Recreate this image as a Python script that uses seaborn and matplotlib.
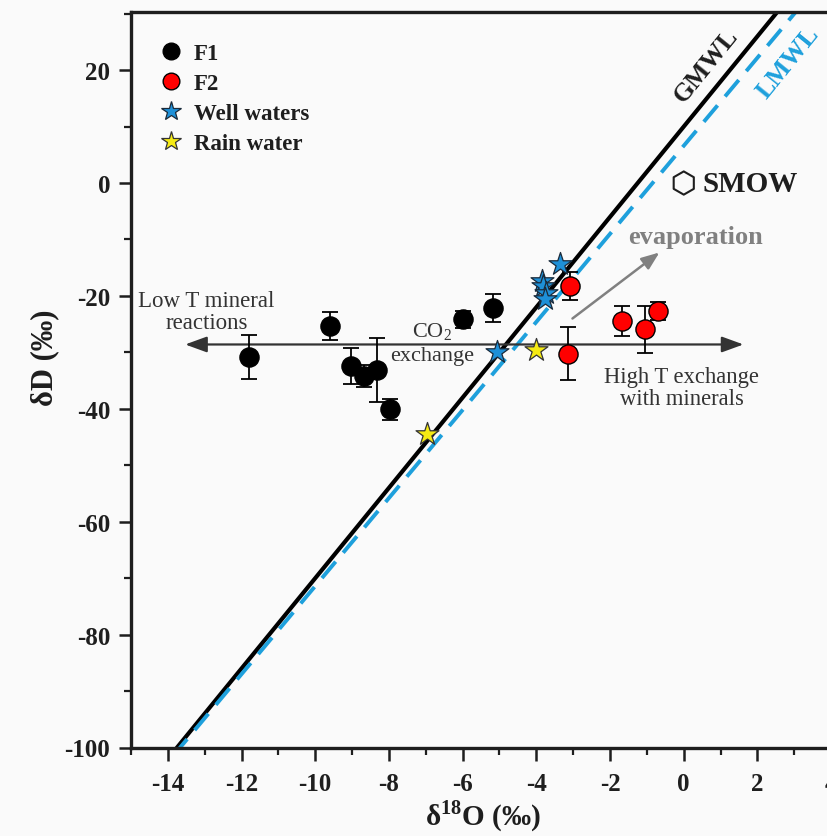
import numpy as np
import pandas as pd
import matplotlib
matplotlib.use("Agg")
import matplotlib.pyplot as plt
from matplotlib.ticker import MultipleLocator
from matplotlib.lines import Line2D
import seaborn as sns

# --- data -----------------------------------------------------------------
f1_d18o = [-11.79, -9.60, -9.04, -8.67, -8.33, -7.97, -5.98, -5.17]
f1_dd = [-30.75, -25.3, -32.4, -34.2, -33.1, -40.1, -24.1, -22.2]
f1_err = [3.9, 2.5, 3.2, 2.0, 5.7, 1.8, 1.5, 2.5]

f2_d18o = [-3.09, -3.13, -1.68, -1.05, -0.69]
f2_dd = [-18.2, -30.2, -24.4, -25.9, -22.7]
f2_err = [2.5, 4.75, 2.7, 4.2, 1.6]

well_d18o = [-3.36, -3.85, -3.81, -3.74, -3.77, -5.08]
well_dd = [-14.3, -17.3, -18.2, -19.4, -20.6, -30.0]

rain_d18o = [-4.01, -6.97]
rain_dd = [-29.6, -44.5]

smow = (0.0, 0.0)

gmwl_slope, gmwl_icpt = 8.0, 10.0
lmwl_slope, lmwl_icpt = 7.8, 6.6

series_labels = ["F1", "F2", "Well waters", "Rain water"]

# --- style ----------------------------------------------------------------
sns.set_theme(style="ticks")
plt.rcParams["font.family"] = ["Liberation Serif", "DejaVu Serif"]
plt.rcParams["mathtext.fontset"] = "custom"
plt.rcParams["mathtext.rm"] = "Liberation Serif"
plt.rcParams["mathtext.bf"] = "Liberation Serif:bold"
plt.rcParams["axes.unicode_minus"] = False

bg = "#fafafa"
ink = "#1e1e1e"

fig = plt.figure(figsize=(8.28, 8.37), dpi=100, facecolor=bg)
W, H = 828, 837
x_lo, x_hi = -15, 5
y_lo, y_hi = -100, 30.3
px_per_x = 36.85
ax_w_px = (x_hi - x_lo) * px_per_x
ax_h_px = 748.5 - 13
ax = fig.add_axes([131 / W, (H - 748.5) / H, ax_w_px / W, ax_h_px / H])
ax.set_facecolor(bg)

# meteoric water lines
xline = np.array([x_lo, x_hi])
lines = pd.DataFrame({
    "x": np.concatenate([xline, xline]),
    "y": np.concatenate([gmwl_slope * xline + gmwl_icpt, lmwl_slope * xline + lmwl_icpt]),
    "line": ["GMWL"] * 2 + ["LMWL"] * 2,
})
sns.lineplot(data=lines[lines.line == "GMWL"], x="x", y="y", color="black", lw=3.0, ax=ax,
             zorder=2, legend=False)
sns.lineplot(data=lines[lines.line == "LMWL"], x="x", y="y", color="#1ea0dc", lw=2.8, ax=ax,
             zorder=2, legend=False, dashes=False)
ax.lines[-1].set_dashes([5.5, 3.0])

# process arrows
arrow_y = -28.6
ax.annotate("", xy=(-13.53, arrow_y), xytext=(1.62, arrow_y),
            arrowprops=dict(arrowstyle="<|-|>,head_length=1.1,head_width=0.4",
                            color="#333333", lw=1.6, shrinkA=0, shrinkB=0), zorder=3)
ax.annotate("", xy=(-0.66, -12.3), xytext=(-3.02, -24.0),
            arrowprops=dict(arrowstyle="-|>,head_length=0.9,head_width=0.35",
                            color="#808080", lw=1.8, shrinkA=0, shrinkB=0), zorder=3)

# error bars
ax.errorbar(f1_d18o, f1_dd, yerr=f1_err, fmt="none", ecolor="black", elinewidth=1.3,
            capsize=6, capthick=1.3, zorder=4)
ax.errorbar(f2_d18o, f2_dd, yerr=f2_err, fmt="none", ecolor="black", elinewidth=1.3,
            capsize=6, capthick=1.3, zorder=4)

# samples
sns.scatterplot(x=f1_d18o, y=f1_dd, ax=ax, marker="o", s=190, color="black",
                edgecolor="black", linewidth=1.0, zorder=5)
sns.scatterplot(x=f2_d18o, y=f2_dd, ax=ax, marker="o", s=190, color="#ff0000",
                edgecolor="black", linewidth=1.0, zorder=5)
sns.scatterplot(x=well_d18o, y=well_dd, ax=ax, marker="*", s=300, color="#1e90d8",
                edgecolor="#1a2a3a", linewidth=0.9, zorder=6)
sns.scatterplot(x=rain_d18o, y=rain_dd, ax=ax, marker="*", s=300, color="#f5ea14",
                edgecolor="#333333", linewidth=0.9, zorder=6)
ax.scatter([smow[0]], [smow[1]], marker="h", s=280, facecolor="none", edgecolor=ink,
           linewidth=1.5, zorder=6)

# labels on the plot
ax.text(0.5, 0.0, "SMOW", fontsize=21, fontweight="bold", color=ink, va="center", ha="left")
ax.text(0.62, 21.0, "GMWL", fontsize=18.5, fontweight="bold", color=ink, rotation=51,
        ha="center", va="center", rotation_mode="anchor")
ax.text(2.84, 21.4, "LMWL", fontsize=18.5, fontweight="bold", color="#1ea0dc", rotation=51,
        ha="center", va="center", rotation_mode="anchor")
ax.text(0.33, -9.4, "evaporation", fontsize=19, fontweight="bold", color="#808080",
        ha="center", va="center")
ax.text(-12.95, -22.8, "Low T mineral\nreactions", fontsize=16.5, color="#333333",
        ha="center", va="center", linespacing=1.05)
ax.text(-6.84, -26.2, "CO$_2$", fontsize=16, color="#333333", ha="center", va="center")
ax.text(-6.84, -30.6, "exchange", fontsize=16, color="#333333", ha="center", va="center")
ax.text(-0.05, -36.2, "High T exchange\nwith minerals", fontsize=16.3, color="#333333",
        ha="center", va="center", linespacing=1.05)

# legend
handles = [
    Line2D([], [], marker="o", ls="none", ms=12, mfc="black", mec="black"),
    Line2D([], [], marker="o", ls="none", ms=12, mfc="#ff0000", mec="black"),
    Line2D([], [], marker="*", ls="none", ms=15, mfc="#1e90d8", mec="#1a2a3a", mew=0.9),
    Line2D([], [], marker="*", ls="none", ms=15, mfc="#f5ea14", mec="#333333", mew=0.9),
]
leg = ax.legend(handles, series_labels, loc="upper left",
                bbox_to_anchor=(0.015 - 8 / ax_w_px, 0.965 + 15 / ax_h_px),
                frameon=False, handletextpad=0.3, labelspacing=0.39, handlelength=1.4,
                prop={"family": "Liberation Serif", "weight": "bold", "size": 16.5})
for t in leg.get_texts():
    t.set_color(ink)

# axes
ax.set_xlim(x_lo, x_hi)
ax.set_ylim(y_lo, y_hi)
ax.xaxis.set_major_locator(MultipleLocator(2))
ax.xaxis.set_minor_locator(MultipleLocator(1))
ax.yaxis.set_major_locator(MultipleLocator(20))
ax.yaxis.set_minor_locator(MultipleLocator(10))
ax.tick_params(which="major", length=9, width=1.8, color=ink, labelsize=18, pad=6)
ax.tick_params(axis="x", which="major", pad=9)
ax.tick_params(which="minor", length=5, width=1.6, color=ink)
for lab in ax.get_xticklabels() + ax.get_yticklabels():
    lab.set_fontweight("bold")
    lab.set_color(ink)
for sp in ax.spines.values():
    sp.set_linewidth(2.4)
    sp.set_color(ink)

ax.set_xlabel(r"δ$^{\mathbf{18}}$O (‰)", fontsize=21, fontweight="bold", color=ink)
ax.set_ylabel("δD (‰)", fontsize=22, fontweight="bold", color=ink)
ax.xaxis.set_label_coords((483 - 131) / ax_w_px, -(816 - 748.5) / ax_h_px)
ax.yaxis.set_label_coords(-(131 - 45) / ax_w_px, (748.5 - 358) / ax_h_px)
ax.xaxis.label.set_va("center")
ax.yaxis.label.set_va("center")

fig.savefig("out.png", dpi=100, facecolor=bg)
